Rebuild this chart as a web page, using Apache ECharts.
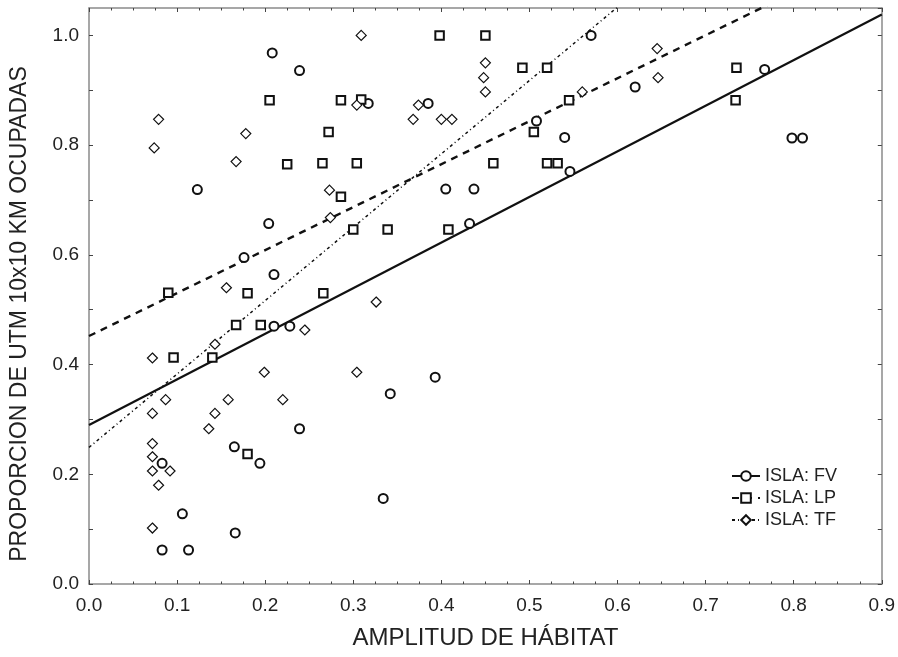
<!DOCTYPE html>
<html><head><meta charset="utf-8">
<script src="https://cdn.jsdelivr.net/npm/echarts@6/dist/echarts.min.js"></script>
<style>html,body{margin:0;padding:0;background:#fff}#c{width:898px;height:657px}</style>
</head><body><div id="c"></div>
<script>
const xTitle = 'AMPLITUD DE HÁBITAT';
const yTitle = 'PROPORCION DE UTM 10x10 KM OCUPADAS';
const seriesNames = ['ISLA: FV', 'ISLA: LP', 'ISLA: TF'];
const fvPoints = [[0.208,0.968],[0.239,0.936],[0.123,0.719],[0.570,1.0],[0.317,0.876],[0.385,0.876],[0.508,0.844],[0.540,0.814],[0.546,0.752],[0.405,0.720],[0.437,0.720],[0.620,0.906],[0.767,0.938],[0.798,0.813],[0.810,0.813],[0.204,0.657],[0.176,0.595],[0.210,0.564],[0.210,0.470],[0.228,0.470],[0.432,0.657],[0.393,0.377],[0.342,0.347],[0.239,0.283],[0.165,0.250],[0.083,0.220],[0.194,0.220],[0.106,0.128],[0.166,0.093],[0.083,0.062],[0.113,0.062],[0.334,0.156]];
const lpPoints = [[0.205,0.882],[0.286,0.882],[0.272,0.824],[0.225,0.765],[0.265,0.767],[0.286,0.706],[0.398,1.0],[0.450,1.0],[0.492,0.941],[0.520,0.941],[0.545,0.882],[0.309,0.883],[0.505,0.824],[0.304,0.767],[0.459,0.767],[0.520,0.767],[0.532,0.767],[0.735,0.941],[0.734,0.882],[0.090,0.531],[0.180,0.530],[0.266,0.530],[0.167,0.472],[0.195,0.472],[0.096,0.413],[0.140,0.413],[0.300,0.646],[0.339,0.646],[0.408,0.646],[0.180,0.237]];
const tfPoints = [[0.079,0.847],[0.074,0.795],[0.178,0.821],[0.167,0.770],[0.273,0.718],[0.274,0.668],[0.309,1.0],[0.450,0.950],[0.448,0.923],[0.450,0.897],[0.560,0.897],[0.304,0.873],[0.374,0.873],[0.368,0.847],[0.400,0.847],[0.412,0.847],[0.645,0.976],[0.646,0.923],[0.156,0.540],[0.245,0.463],[0.143,0.437],[0.072,0.412],[0.199,0.386],[0.087,0.336],[0.158,0.336],[0.220,0.336],[0.072,0.311],[0.143,0.311],[0.326,0.514],[0.304,0.386],[0.136,0.283],[0.072,0.256],[0.072,0.232],[0.072,0.206],[0.092,0.206],[0.079,0.180],[0.072,0.102]];
// regression line endpoints (x=0 and x=0.9)
const fvFit = [[0, 0.290], [0.9, 1.038]];
const lpFit = [[0, 0.452], [0.9, 1.157]];
const tfFit = [[0, 0.249], [0.9, 1.453]];

const font = 'Liberation Sans, Arial, sans-serif';
const axisCol = '#8a8a8a';
const chart = echarts.init(document.getElementById('c'));
const baseX = {
  type: 'value', min: 0, max: 0.9, interval: 0.1,
  axisLine: { show: true, onZero: false, lineStyle: { color: axisCol, width: 1.5 } },
  axisTick: { show: true, inside: true, length: 4, lineStyle: { color: '#444' } },
  minorTick: { show: true, splitNumber: 4, length: 2.5, lineStyle: { color: '#444' } },
  splitLine: { show: false }
};
const baseY = {
  type: 'value', min: 0, max: 1.05, interval: 0.1,
  axisLine: { show: true, onZero: false, lineStyle: { color: axisCol, width: 1.5 } },
  axisTick: { show: true, inside: true, length: 4, lineStyle: { color: '#444' } },
  splitLine: { show: false }
};
function scatter(name, data, symbol, size, bw) {
  return { name, type: 'scatter', data, symbol, symbolSize: size, xAxisIndex: 0, yAxisIndex: 0,
    itemStyle: { color: '#fff', borderColor: '#111', borderWidth: bw, opacity: 1 }, z: 3 };
}
function fit(name, data, type, width, symbol) {
  return { name, type: 'line', data, showSymbol: false, symbol, symbolSize: 8, clip: true, silent: true,
    xAxisIndex: 0, yAxisIndex: 0,
    itemStyle: { color: '#fff', borderColor: '#111', borderWidth: 1.5 },
    lineStyle: { color: '#111', width, type }, z: 2 };
}
chart.setOption({
  animation: false,
  grid: { left: 82, right: 14, top: 8, bottom: 73, containLabel: false },
  legend: {
    data: seriesNames, orient: 'vertical', left: 726, top: 462, itemGap: 4,
    itemWidth: 28, itemHeight: 12,
    textStyle: { fontFamily: font, fontSize: 18, lineHeight: 18, color: '#222' }
  },
  xAxis: [
    Object.assign({}, baseX, { position: 'bottom',
      axisLabel: { fontFamily: font, fontSize: 19, color: '#222', margin: 12, formatter: v => v.toFixed(1) },
      name: xTitle, nameLocation: 'middle', nameGap: 42,
      nameTextStyle: { fontFamily: font, fontSize: 24, color: '#222' } }),
    Object.assign({}, baseX, { position: 'top', axisLabel: { show: false } })
  ],
  yAxis: [
    Object.assign({}, baseY, { position: 'left',
      axisLabel: { fontFamily: font, fontSize: 19, color: '#222', margin: 10, showMaxLabel: false,
        formatter: v => (Math.round(v * 10) % 2 === 0 && v <= 1.0001) ? v.toFixed(1) : '' },
      name: yTitle, nameLocation: 'middle', nameGap: 58, nameRotate: 90,
      nameTextStyle: { fontFamily: font, fontSize: 23, color: '#222', padding: [0, 36, 0, 0] } }),
    Object.assign({}, baseY, { position: 'right', axisLabel: { show: false } })
  ],
  series: [
    fit(seriesNames[0], fvFit, 'solid', 2.2, 'circle'),
    fit(seriesNames[1], lpFit, [7, 6], 2.4, 'rect'),
    fit(seriesNames[2], tfFit, [3, 3, 1, 3], 1.5, 'diamond'),
    scatter(seriesNames[0], fvPoints, 'circle', 9, 2),
    scatter(seriesNames[1], lpPoints, 'rect', 8.5, 2),
    scatter(seriesNames[2], tfPoints, 'diamond', 10, 1.2)
  ]
});
</script></body></html>
